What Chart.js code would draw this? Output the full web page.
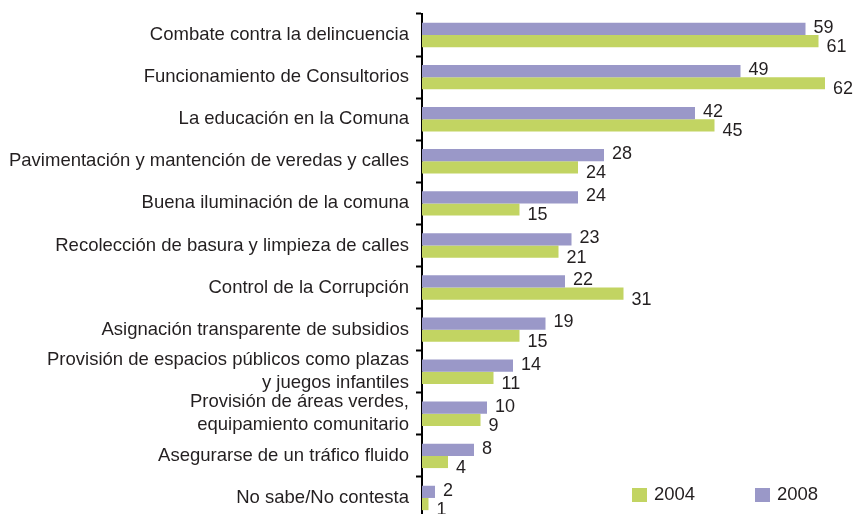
<!DOCTYPE html>
<html>
<head>
<meta charset="utf-8">
<script src="https://cdn.jsdelivr.net/npm/chart.js@4/dist/chart.umd.min.js"></script>
<style>
html,body{margin:0;padding:0;overflow:hidden;background:#fff;}
#wrap{width:856px;height:522px;position:relative;}
</style>
</head>
<body>
<div id="wrap"><canvas id="c" width="856" height="522"></canvas></div>
<script>
const categories = [
  "Combate contra la delincuencia",
  "Funcionamiento de Consultorios",
  "La educación en la Comuna",
  "Pavimentación y mantención de veredas y calles",
  "Buena iluminación de la comuna",
  "Recolección de basura y limpieza de calles",
  "Control de la Corrupción",
  "Asignación transparente de subsidios",
  ["Provisión de espacios públicos como plazas", "y juegos infantiles"],
  ["Provisión de áreas verdes,", "equipamiento comunitario"],
  "Asegurarse de un tráfico fluido",
  "No sabe/No contesta"
];
const values2008 = [59, 49, 42, 28, 24, 23, 22, 19, 14, 10, 8, 2];
const values2004 = [61, 62, 45, 24, 15, 21, 31, 15, 11, 9, 4, 1];
const seriesLabels = ["2008", "2004"];
const colors = ["#9A98C8", "#C2D462"];
const textColor = "#231F20";
const FONT = "'Liberation Sans', Arial, Helvetica, sans-serif";

const valueLabels = {
  id: 'valueLabels',
  afterDatasetsDraw(chart) {
    const ctx = chart.ctx;
    ctx.save();
    ctx.font = "18px " + FONT;
    ctx.fillStyle = textColor;
    ctx.textAlign = 'left';
    ctx.textBaseline = 'middle';
    chart.data.datasets.forEach((ds, di) => {
      const meta = chart.getDatasetMeta(di);
      meta.data.forEach((el, i) => {
        const dy = di === 0 ? -1 : 6;
        ctx.fillText(String(ds.data[i]), el.x + 8, el.y + dy);
      });
    });
    ctx.restore();
  }
};

const customLegend = {
  id: 'customLegend',
  afterDraw(chart) {
    const ctx = chart.ctx;
    ctx.save();
    ctx.font = "18.5px " + FONT;
    ctx.textBaseline = 'middle';
    ctx.textAlign = 'left';
    const order = [1, 0];
    const xs = [632, 755];
    order.forEach((di, k) => {
      const ds = chart.data.datasets[di];
      ctx.fillStyle = ds.backgroundColor;
      ctx.fillRect(xs[k], 488, 15, 14);
      ctx.fillStyle = textColor;
      ctx.fillText(ds.label, xs[k] + 22, 495);
    });
    ctx.restore();
  }
};

new Chart(document.getElementById('c'), {
  type: 'bar',
  data: {
    labels: categories,
    datasets: [
      { label: seriesLabels[0], data: values2008, backgroundColor: colors[0] },
      { label: seriesLabels[1], data: values2004, backgroundColor: colors[1] }
    ]
  },
  options: {
    indexAxis: 'y',
    responsive: false,
    animation: false,
    devicePixelRatio: 1,
    layout: { padding: { top: 14, bottom: 3, right: 5, left: 0 } },
    datasets: { bar: { barPercentage: 1, categoryPercentage: 0.58 } },
    plugins: { legend: { display: false }, tooltip: { enabled: false } },
    scales: {
      x: { display: false, min: 0, max: 66 },
      y: {
        afterFit(scale) { scale.width = 422; scale.paddingTop = 0; scale.paddingBottom = 0; },
        border: { display: true, color: '#000', width: 2 },
        grid: { display: true, drawOnChartArea: false, drawTicks: true, tickLength: 6, tickWidth: 2, tickColor: '#000', offset: true },
        ticks: { color: textColor, padding: 7, font: { family: FONT, size: 18.5, lineHeight: 1.25 }, autoSkip: false }
      }
    }
  },
  plugins: [valueLabels, customLegend]
});
</script>
</body>
</html>
